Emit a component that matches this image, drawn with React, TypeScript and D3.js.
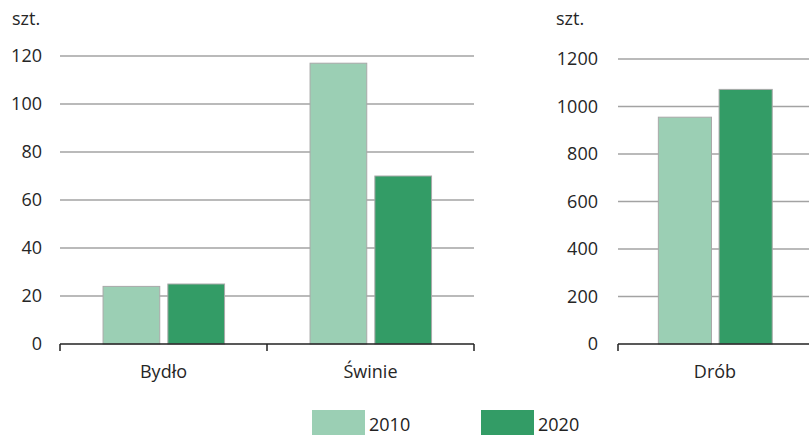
import React, { useEffect, useRef } from 'react';
import * as d3 from 'd3';

const years = ['2010', '2020'];
const leftCategories = ['Bydło', 'Świnie'];
const leftValues2010 = [24, 117];
const leftValues2020 = [25, 70];
const leftTicks = [0, 20, 40, 60, 80, 100, 120];

const rightCategories = ['Drób'];
const rightValues2010 = [955];
const rightValues2020 = [1072];
const rightTicks = [0, 200, 400, 600, 800, 1000, 1200];

const colors = ['#9bcfb4', '#339c66'];
const unit = 'szt.';

const App = () => {
    const svgRef = useRef<SVGSVGElement>(null);

    useEffect(() => {
        const svg = d3.select(svgRef.current);
        svg.selectAll('*').remove();
        const font = '"Open Sans", "Noto Sans", sans-serif';
        const fs = '18px';

        const drawPanel = (
            cats: string[], v2010: number[], v2020: number[], ticks: number[],
            x0: number, x1: number, labelX: number, unitX: number, maxY: number, topY: number
        ) => {
            const bottom = 344;
            const g = svg.append('g');
            const x = d3.scaleBand().domain(cats).range([x0, x1]);
            const y = d3.scaleLinear().domain([0, maxY]).range([bottom, topY]);
            const bw = x.bandwidth();
            const xs = d3.scaleBand().domain(years).range([bw * 0.208, bw * 0.795]).paddingInner(0.125);

            // siatka
            g.selectAll('.grid')
                .data(ticks.filter(t => t > 0))
                .enter().append('line')
                .attr('x1', x0).attr('x2', x1)
                .attr('y1', d => y(d)).attr('y2', d => y(d))
                .attr('stroke', '#a3a3a3').attr('stroke-width', 1.5);

            // etykiety osi Y
            g.selectAll('.ytick')
                .data(ticks)
                .enter().append('text')
                .attr('x', labelX).attr('y', d => y(d))
                .attr('dy', '0.35em')
                .attr('text-anchor', 'end')
                .style('font-family', font).style('font-size', fs)
                .attr('fill', '#262626')
                .text(d => d);

            g.append('text')
                .attr('x', unitX).attr('y', 25)
                .style('font-family', font).style('font-size', fs)
                .attr('fill', '#262626')
                .text(unit);

            // słupki
            const rows = cats.map((c, i) => ({ c, vals: [v2010[i], v2020[i]] }));
            rows.forEach(r => {
                r.vals.forEach((v, j) => {
                    g.append('rect')
                        .attr('x', (x(r.c) as number) + (xs(years[j]) as number))
                        .attr('width', xs.bandwidth())
                        .attr('y', y(v))
                        .attr('height', bottom - y(v))
                        .attr('fill', colors[j])
                        .attr('stroke', '#a9a9a9').attr('stroke-width', 1);
                });
            });

            // oś X
            g.append('line')
                .attr('x1', x0).attr('x2', x1)
                .attr('y1', bottom).attr('y2', bottom)
                .attr('stroke', '#222').attr('stroke-width', 1.5);
            const edges = cats.map(c => x(c) as number).concat([x1]);
            g.selectAll('.xtick')
                .data(edges)
                .enter().append('line')
                .attr('x1', d => d).attr('x2', d => d)
                .attr('y1', bottom).attr('y2', bottom + 7)
                .attr('stroke', '#222').attr('stroke-width', 1.5);
            g.selectAll('.xlabel')
                .data(cats)
                .enter().append('text')
                .attr('x', d => (x(d) as number) + bw / 2)
                .attr('y', 378)
                .attr('text-anchor', 'middle')
                .style('font-family', font).style('font-size', fs)
                .attr('fill', '#262626')
                .text(d => d);
        };

        drawPanel(leftCategories, leftValues2010, leftValues2020, leftTicks, 60, 474, 42, 12, 120, 56);
        drawPanel(rightCategories, rightValues2010, rightValues2020, rightTicks, 618, 812, 598, 556, 1200, 59);

        // legenda
        const legendX = [312, 481];
        years.forEach((yr, i) => {
            svg.append('rect')
                .attr('x', legendX[i]).attr('y', 410)
                .attr('width', 53).attr('height', 26)
                .attr('fill', colors[i]);
            svg.append('text')
                .attr('x', legendX[i] + 57).attr('y', 431)
                .style('font-family', font).style('font-size', fs)
                .attr('fill', '#222')
                .text(yr);
        });
    }, []);

    return (
        <svg ref={svgRef} width={809} height={435}
            style={{ position: 'absolute', left: 0, top: 0, background: '#fff' }} />
    );
};

export default App;
